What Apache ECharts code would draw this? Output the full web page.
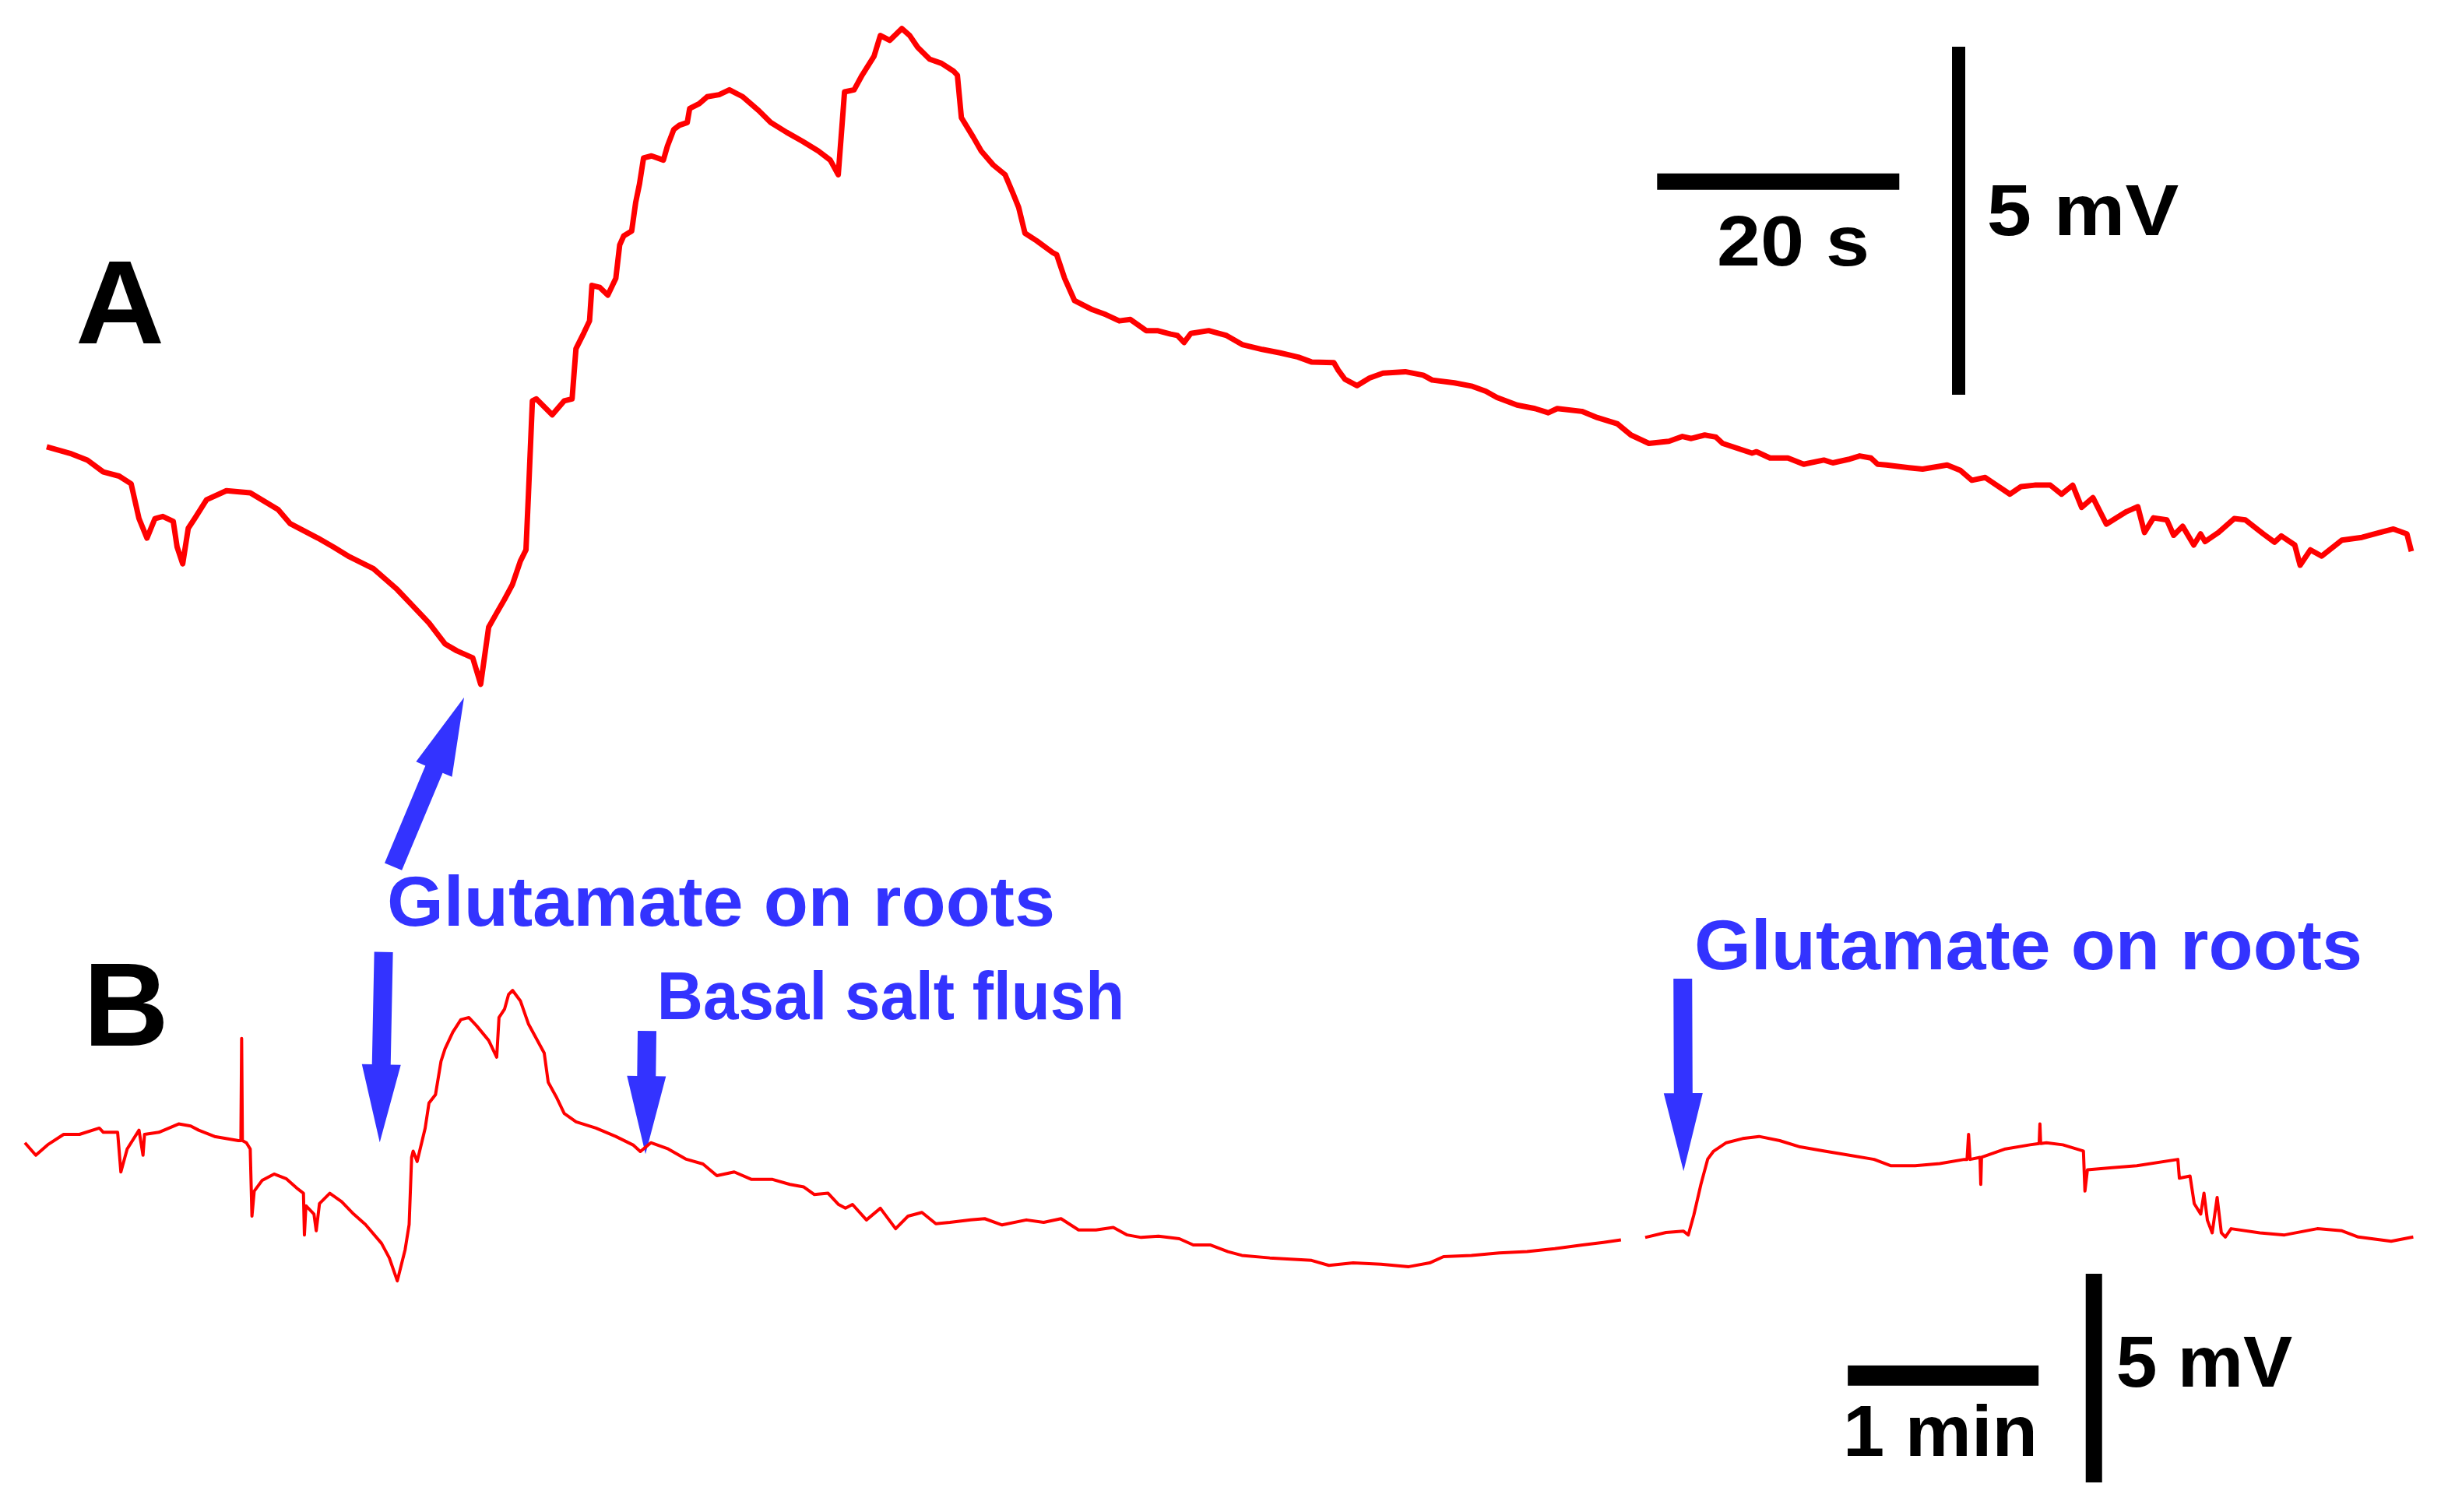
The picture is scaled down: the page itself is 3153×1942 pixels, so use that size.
<!DOCTYPE html>
<html>
<head>
<meta charset="utf-8">
<script src="https://cdn.jsdelivr.net/npm/echarts@6/dist/echarts.min.js"></script>
<style>
html,body{margin:0;padding:0;background:#fff;}
#chart{width:3153px;height:1942px;}
</style>
</head>
<body>
<div id="chart"></div>
<script>
// ---- Trace A (time in s, potential in mV, arbitrary offset) ----
var aTime = [0,2.05,3.36,4.67,5.98,6.97,7.62,8.28,8.94,9.59,10.45,10.77,11.23,11.69,12.22,13.20,14.84,16.81,19.11,20.09,22.39,23.70,25.01,26.98,28.95,30.26,31.57,32.89,33.87,35.18,35.84,36.50,37.15,37.81,38.46,39.12,39.58,39.78,40.11,40.43,41.75,42.73,43.39,43.71,44.37,44.83,45.03,45.68,46.34,47.00,47.32,47.65,48.31,48.64,48.96,49.29,49.95,50.93,51.26,51.79,52.25,52.90,53.10,53.89,54.54,55.53,56.38,57.49,58.81,59.79,61.10,62.42,63.73,64.71,65.37,65.70,65.89,66.68,67.34,68.32,68.85,69.63,70.62,71.27,71.93,72.92,73.90,74.88,75.21,75.54,76.52,77.18,78.17,79.15,79.81,80.27,80.79,81.77,83.09,83.41,84.07,
  84.89,86.37,87.47,88.58,89.50,90.80,91.72,92.83,93.38,93.93,94.49,95.96,97.44,98.73,100.39,101.87,103.35,104.45,106.30,106.67,107.22,108.22,109.25,110.36,112.20,113.68,114.42,116.26,117.74,118.85,119.77,121.43,122.91,124.01,124.75,126.78,128.07,129.73,130.84,132.32,133.98,135.09,135.82,136.93,137.86,138.41,
  140.84,141.21,142.32,143.80,145.10,146.77,147.51,148.80,149.73,150.66,151.21,151.95,153.80,154.92,156.95,158.06,158.99,160.10,161.03,162.14,163.06,164.18,165.47,166.40,167.32,168.06,168.99,170.10,170.84,171.77,172.70,173.25,173.99,175.10,175.66,176.40,177.32,177.88,178.25,179.36,180.66,181.58,183.06,183.99,184.55,185.66,186.10,186.95,187.88,189.55,191.21,192.70,193.81,194.92,195.29];
var aVolt = [3.58,3.48,3.39,3.22,3.16,3.05,2.55,2.27,2.55,2.58,2.51,2.14,1.90,2.41,2.55,2.82,2.95,2.92,2.68,2.48,2.27,2.14,2.00,1.83,1.53,1.29,1.05,0.75,0.65,0.55,0.17,0.99,1.19,1.39,1.60,1.94,2.10,2.88,4.24,4.27,4.04,4.24,4.27,4.99,5.22,5.39,5.90,5.87,5.76,6.00,6.48,6.61,6.68,7.09,7.36,7.73,7.76,7.70,7.90,8.14,8.20,8.24,8.44,8.51,8.61,8.64,8.71,8.61,8.41,8.24,8.10,7.97,7.83,7.70,7.49,8.24,8.68,8.71,8.92,9.19,9.49,9.42,9.59,9.49,9.32,9.15,9.09,8.98,8.92,8.31,8.03,7.83,7.63,7.49,7.22,7.02,6.65,6.54,6.37,6.34,6.00,
  5.68,5.55,5.48,5.39,5.41,5.25,5.25,5.20,5.18,5.08,5.21,5.25,5.18,5.05,4.98,4.93,4.87,4.80,4.79,4.68,4.55,4.46,4.57,4.64,4.66,4.61,4.54,4.50,4.45,4.38,4.29,4.18,4.13,4.07,4.13,4.09,4.00,3.91,3.75,3.63,3.66,3.73,3.70,3.75,3.72,3.63,
  3.49,3.51,3.42,3.42,3.33,3.39,3.35,3.40,3.45,3.42,3.33,3.32,3.28,3.26,3.32,3.24,3.10,3.14,3.03,2.90,3.01,3.03,3.03,2.90,3.03,2.71,2.85,2.47,2.55,2.65,2.72,2.35,2.56,2.53,2.31,2.44,2.17,2.33,2.22,2.35,2.55,2.53,2.33,2.21,2.30,2.17,1.88,2.10,2.01,2.24,2.28,2.35,2.40,2.33,2.08];

// ---- Trace B (time in min, potential in mV, arbitrary offset; null = gap) ----
var bTime = [0,0.057,0.119,0.203,0.286,0.390,0.411,0.486,0.503,0.536,0.598,0.619,0.627,0.702,0.806,0.869,0.911,0.994,1.119,1.132,1.136,1.140,1.161,1.181,1.190,1.202,1.244,1.306,1.369,1.431,1.460,1.465,1.473,1.515,1.527,1.544,1.598,1.660,1.723,1.785,1.869,1.910,1.952,1.993,2.014,2.027,2.035,2.056,2.098,2.118,2.152,2.181,2.202,2.243,2.285,2.327,2.368,2.431,2.473,2.485,2.514,2.535,2.556,2.597,2.639,2.722,2.743,2.785,2.827,2.889,2.993,3.097,
  3.190,3.226,3.281,3.372,3.463,3.554,3.627,3.718,3.809,3.919,4.010,4.083,4.137,4.210,4.265,4.301,4.338,4.411,4.484,4.564,4.629,4.702,4.775,4.848,4.958,5.031,5.122,5.249,5.340,5.431,5.523,5.614,5.705,5.778,5.851,5.942,6.051,6.124,6.215,6.306,6.379,6.525,6.634,6.744,6.835,6.962,7.108,7.254,7.363,7.436,7.582,7.728,7.874,8.019,8.165,8.274,8.366,8.430,8.493,8.602,8.694,8.719,8.748,8.785,8.821,8.850,
  8.918,9.004,9.090,9.198,9.305,9.434,9.563,9.693,9.779,9.908,10.037,10.166,10.180,10.188,10.196,10.248,10.252,10.256,10.381,10.510,10.558,10.562,10.566,10.596,10.682,10.790,10.798,10.811,10.941,11.070,11.285,11.293,11.349,11.371,11.405,11.422,11.440,11.465,11.491,11.513,11.534,11.564,11.715,11.844,12.016,12.145,12.231,12.403,12.519];
var bVolt = [8.14,7.84,8.09,8.34,8.34,8.49,8.39,8.39,7.44,7.99,8.44,7.84,8.34,8.39,8.59,8.54,8.44,8.29,8.19,8.19,10.64,8.19,8.14,7.99,6.38,6.98,7.24,7.39,7.28,7.03,6.93,5.93,6.63,6.43,6.03,6.68,6.93,6.73,6.43,6.18,5.73,5.38,4.83,5.58,6.18,7.79,7.94,7.69,8.49,9.09,9.29,10.09,10.39,10.79,11.09,11.14,10.94,10.59,10.19,11.14,11.34,11.69,11.79,11.54,10.99,10.29,9.59,9.24,8.84,8.64,8.49,8.29,
  8.08,7.93,8.14,7.99,7.75,7.63,7.35,7.44,7.26,7.26,7.14,7.08,6.90,6.93,6.66,6.57,6.66,6.29,6.57,6.08,6.38,6.47,6.20,6.23,6.29,6.32,6.17,6.29,6.23,6.32,6.05,6.05,6.11,5.93,5.87,5.90,5.84,5.69,5.69,5.53,5.44,5.38,5.35,5.32,5.20,5.26,5.23,5.17,5.26,5.41,5.44,5.50,5.53,5.60,5.69,5.75,5.81,null,5.87,5.99,6.02,5.93,6.41,7.14,7.75,7.93,
  8.14,8.24,8.29,8.19,8.04,7.94,7.84,7.74,7.59,7.59,7.64,7.74,7.74,8.34,7.74,7.79,7.14,7.79,7.99,8.09,8.12,8.59,8.12,8.14,8.09,7.94,6.98,7.49,7.54,7.59,7.74,7.29,7.34,6.68,6.43,6.93,6.28,5.98,6.83,5.98,5.88,6.08,5.98,5.93,6.08,6.03,5.88,5.78,5.88];

// ---- Scale bars [t1, v1, t2, v2] in each panel's units ----
var scaleBarsA = [[133.0, 7.39, 153.0, 7.39], [157.9, 4.33, 157.9, 9.33]];   // 20 s, 5 mV
var scaleBarsB = [[9.555, 2.56, 10.555, 2.56], [10.845, 0, 10.845, 5]];      // 1 min, 5 mV

// ---- Arrows [tailT, tailV, tipT, tipV] ----
var arrowsA = [[28.62, -2.45, 34.47, -0.02]];
var arrowsB = [[1.88, 12.71, 1.86, 8.15], [3.261, 10.82, 3.253, 7.87], [8.690, 12.07, 8.694, 7.46]];

// ---- Text labels ----
var labelTexts = ['A', 'B', '20 s', '5 mV', 'Glutamate on roots', 'Basal salt flush', 'Glutamate on roots', '1 min', '5 mV'];

var RED = '#ff0000', BLUE = '#3333ff', BLACK = '#000000';

function zip(xs, ys) {
  return xs.map(function (x, i) { return [x, ys[i] === null ? '-' : ys[i]]; });
}

function barSeries(bars, axis, widths) {
  return bars.map(function (b, i) {
    return {
      type: 'line', xAxisIndex: axis, yAxisIndex: axis, silent: true, clip: false,
      showSymbol: false, symbol: 'none', animation: false,
      lineStyle: { color: BLACK, width: widths[i], cap: 'butt' },
      data: [[b[0], b[1]], [b[2], b[3]]]
    };
  });
}

var SHAFT = 24, HEADW = 50, HEADL = 100;
function arrowRender(params, api) {
  var p1 = api.coord([api.value(0), api.value(1)]);
  var p2 = api.coord([api.value(2), api.value(3)]);
  var dx = p2[0] - p1[0], dy = p2[1] - p1[1];
  var L = Math.sqrt(dx * dx + dy * dy);
  var ux = dx / L, uy = dy / L, nx = -uy, ny = ux;
  var hb = [p2[0] - ux * HEADL, p2[1] - uy * HEADL];
  var s = SHAFT / 2, h = HEADW / 2;
  var pts = [
    [p1[0] + nx * s, p1[1] + ny * s],
    [hb[0] + nx * s, hb[1] + ny * s],
    [hb[0] + nx * h, hb[1] + ny * h],
    [p2[0], p2[1]],
    [hb[0] - nx * h, hb[1] - ny * h],
    [hb[0] - nx * s, hb[1] - ny * s],
    [p1[0] - nx * s, p1[1] - ny * s]
  ];
  return { type: 'polygon', shape: { points: pts }, style: { fill: BLUE } };
}

function arrowSeries(data, axis) {
  return {
    type: 'custom', xAxisIndex: axis, yAxisIndex: axis, clip: false, silent: true,
    animation: false, renderItem: arrowRender,
    dimensions: ['t1', 'v1', 't2', 'v2'],
    encode: { x: [0, 2], y: [1, 3] },
    data: data
  };
}

// label layout: [centerX, capCenterY, fontSize, color, scaleX]
var labelLayout = [
  [154, 392, 152, BLACK, 1.04],
  [162, 1294, 152, BLACK, 1.0],
  [2303, 312, 90, BLACK, 1.12],
  [2675, 272, 92, BLACK, 1.12],
  [926, 1160, 90, BLUE, 1.04],
  [1144, 1281, 88, BLUE, 0.93],
  [2605, 1216, 90, BLUE, 1.04],
  [2492, 1840, 92, BLACK, 1.04],
  [2831, 1751, 92, BLACK, 1.03]
];

var graphics = labelTexts.map(function (t, i) {
  var L = labelLayout[i];
  return {
    type: 'text', x: L[0], y: L[1] + 0.048 * L[2], scaleX: L[4], scaleY: 1, silent: true,
    style: {
      text: t, fill: L[3],
      font: 'bold ' + L[2] + 'px "Liberation Sans", Arial, sans-serif',
      textAlign: 'center', textVerticalAlign: 'middle', align: 'center', verticalAlign: 'middle'
    }
  };
});

var chart = echarts.init(document.getElementById('chart'), null, { renderer: 'canvas' });
var series = [
  {
    type: 'line', xAxisIndex: 0, yAxisIndex: 0, showSymbol: false, symbol: 'none', clip: false,
    animation: false, silent: true,
    lineStyle: { color: RED, width: 7, join: 'round' },
    data: zip(aTime, aVolt)
  },
  {
    type: 'line', xAxisIndex: 1, yAxisIndex: 1, showSymbol: false, symbol: 'none', clip: false,
    animation: false, silent: true, connectNulls: false,
    lineStyle: { color: RED, width: 4, join: 'round' },
    data: zip(bTime, bVolt)
  }
].concat(barSeries(scaleBarsA, 0, [21, 17]))
 .concat(barSeries(scaleBarsB, 1, [26, 21]))
 .concat([arrowSeries(arrowsA, 0), arrowSeries(arrowsB, 1)]);

chart.setOption({
  backgroundColor: '#ffffff',
  animation: false,
  grid: [
    { left: 60, right: 45, top: 0, height: 894, containLabel: false },
    { left: 32, right: 46, top: 1100, height: 804, containLabel: false }
  ],
  xAxis: [
    { type: 'value', gridIndex: 0, min: 0, max: 196, show: false },
    { type: 'value', gridIndex: 1, min: 0, max: 12.55, show: false }
  ],
  yAxis: [
    { type: 'value', gridIndex: 0, min: 0, max: 10, show: false },
    { type: 'value', gridIndex: 1, min: 0, max: 15, show: false }
  ],
  series: series,
  graphic: graphics
});
</script>
</body>
</html>
